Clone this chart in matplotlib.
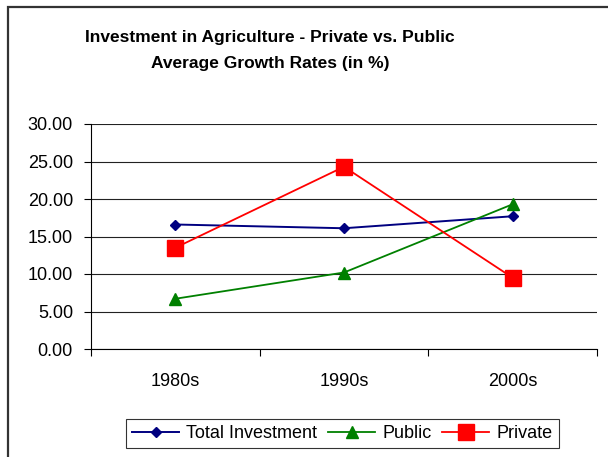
import matplotlib
matplotlib.use("Agg")
import matplotlib.pyplot as plt
from matplotlib.patches import Rectangle

plt.rcParams['font.family'] = ['Liberation Sans', 'DejaVu Sans']

decades = ["1980s", "1990s", "2000s"]
total_investment = [16.6, 16.1, 17.7]
public = [6.7, 10.2, 19.3]
private = [13.5, 24.3, 9.5]
y_ticks = [0, 5, 10, 15, 20, 25, 30]
title_lines = ["Investment in Agriculture - Private vs. Public",
               "Average Growth Rates (in %)"]

W, H = 608, 457
fig = plt.figure(figsize=(W / 100, H / 100), dpi=100)
ax = fig.add_axes([91 / W, 1 - 349 / H, (597 - 91) / W, (349 - 124) / H])

x = list(range(len(decades)))
ax.plot(x, total_investment, color='#000080', lw=1.4, marker='D', ms=5.3,
        label='Total Investment', zorder=3)
ax.plot(x, public, color='#008000', lw=1.3, marker='^', ms=8.5,
        label='Public', zorder=4)
ax.plot(x, private, color='#ff0000', lw=1.3, marker='s', ms=11,
        label='Private', zorder=5)

ax.set_xlim(-0.5, len(decades) - 0.5)
ax.set_ylim(0, 30)
ax.set_yticks(y_ticks)
ax.set_yticklabels([f"{v:.2f}" for v in y_ticks])
ax.set_xticks(x)
ax.set_xticklabels(decades)
ax.set_xticks([i - 0.5 for i in range(len(decades) + 1)], minor=True)

ax.tick_params(axis='y', direction='out', length=5, width=0.8, pad=8,
               labelsize=13, color='black')
ax.tick_params(axis='x', which='major', length=0, pad=17, labelsize=13)
ax.tick_params(axis='x', which='minor', direction='out', length=5, width=0.8)

ax.grid(axis='y', color='#222222', lw=0.8)
ax.set_axisbelow(True)
for side in ('top', 'right'):
    ax.spines[side].set_visible(False)
for side in ('left', 'bottom'):
    ax.spines[side].set_color('black')
    ax.spines[side].set_linewidth(0.8)

fig.text(270 / W, 1 - 42 / H, title_lines[0], ha='center', va='baseline',
         fontsize=12.5, fontweight='bold')
fig.text(270 / W, 1 - 68 / H, title_lines[1], ha='center', va='baseline',
         fontsize=12.5, fontweight='bold')

leg = fig.legend(loc='center', bbox_to_anchor=(342.5 / W, 1 - 433.5 / H),
                 ncol=3, fontsize=13, frameon=True, fancybox=False,
                 edgecolor='black', handlelength=2.6, handletextpad=0.4,
                 columnspacing=0.6, borderpad=0.35, borderaxespad=0)
leg.get_frame().set_linewidth(0.8)

fig.add_artist(Rectangle((8 / W, -0.1), 1.2, 1.1 - 7 / H, transform=fig.transFigure,
                         fill=False, lw=1.6, ec='#333333'))

fig.savefig("out.png", dpi=100, facecolor='white')
